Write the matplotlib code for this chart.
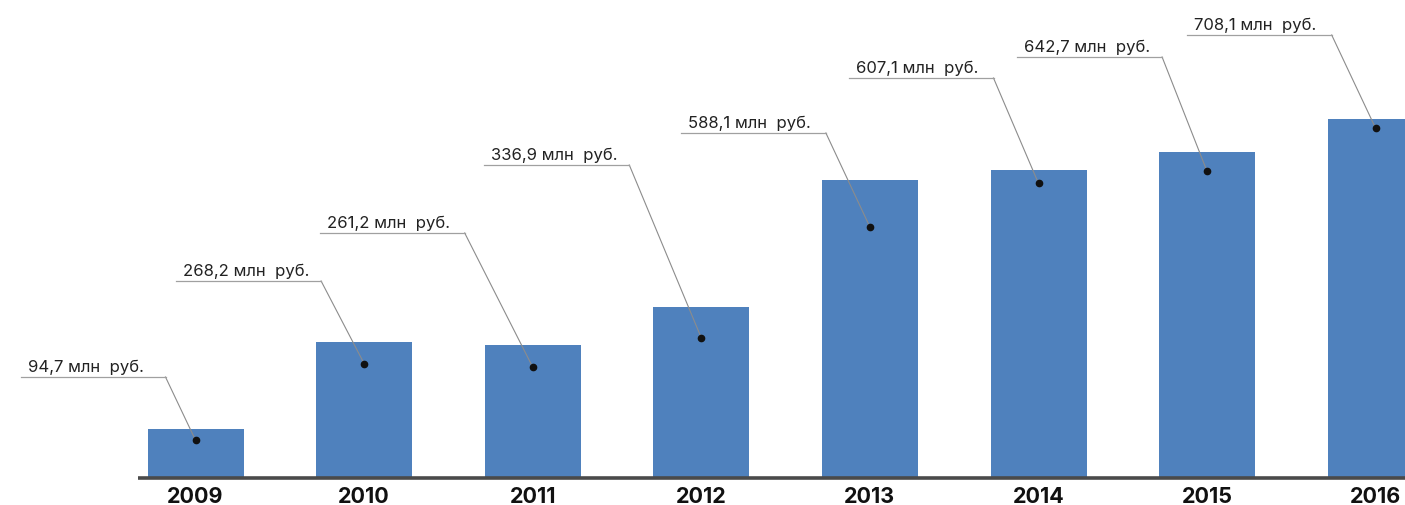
import matplotlib.pyplot as plt
import numpy as np

years = ['2009', '2010', '2011', '2012', '2013', '2014', '2015', '2016']
values = [94.7, 268.2, 261.2, 336.9, 588.1, 607.1, 642.7, 708.1]
labels = ['94,7 млн  руб.', '268,2 млн  руб.', '261,2 млн  руб.', '336,9 млн  руб.',
          '588,1 млн  руб.', '607,1 млн  руб.', '642,7 млн  руб.', '708,1 млн  руб.']

# callout layout in pixels
dot_drop = [11, 22, 22, 31, 47, 13, 19, 9]        # dot below bar top
label_dx = [-30, -43, -68, -72, -44, -45, -45, -44]  # underline end vs bar centre
label_y = [378, 282, 234, 166, 134, 79, 58, 36]    # underline height from top
line_len = 145

plt.rcParams['font.family'] = ['Inter', 'Noto Sans', 'DejaVu Sans']

W, H = 1405, 506
fig = plt.figure(figsize=(W / 100, H / 100), dpi=100)
ax = fig.add_axes([0, 0, 1, 1])
ax.axis('off')

step = 168.6   # px between bars
x0 = 195.5     # px of first bar centre
k = 0.505      # px per unit of value
base = 28      # px from bottom to baseline
ax.set_xlim(-x0 / step, (W - x0) / step)
ax.set_ylim(-base / k, (H - base) / k)

x = np.arange(len(years))
ax.bar(x, values, width=96 / step, color='#4f81bd', zorder=2)
ax.plot([(138 - x0) / step, len(years)], [-1 / k, -1 / k], color='#4a4a4a', lw=2.6,
        solid_capstyle='butt', zorder=3)

for i, year in enumerate(years):
    ax.text(i, -25 / k, year, ha='center', va='baseline', fontsize=15.5,
            fontweight='bold', color='#111111')

for i, (v, lab) in enumerate(zip(values, labels)):
    dot_y = v - dot_drop[i] / k
    ex = i + label_dx[i] / step
    ey = (H - label_y[i] - base) / k
    ax.plot([i, ex], [dot_y, ey], color='#8c8c8c', lw=0.8, zorder=4)
    ax.plot([ex, ex - line_len / step], [ey, ey], color='#a0a0a0', lw=0.9, zorder=4)
    ax.plot(i, dot_y, 'o', color='#111111', ms=4.5, zorder=5)
    ax.text(ex - (line_len - 7) / step, ey + 6 / k, lab, ha='left', va='baseline',
            fontsize=12, color='#222222')

plt.savefig('out.png', dpi=100)
